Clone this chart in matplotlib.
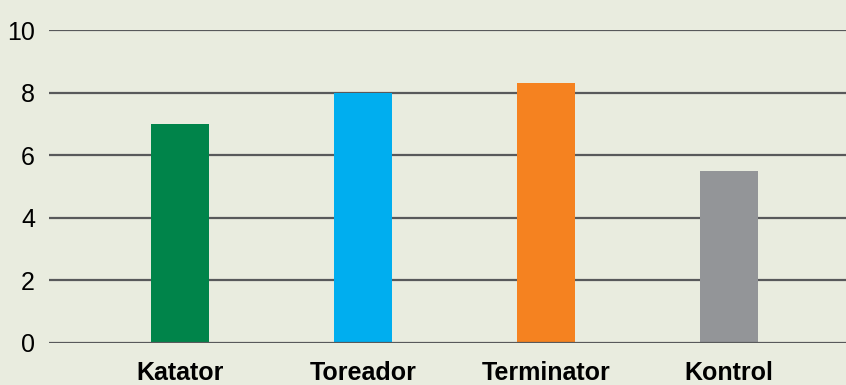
import matplotlib.pyplot as plt

plt.rcParams["font.family"] = ["Liberation Sans", "DejaVu Sans"]

products = ["Katator", "Toreador", "Terminator", "Kontrol"]
values = [7.0, 8.0, 8.3, 5.5]
bar_colors = ["#00844a", "#00aeef", "#f58220", "#939598"]
y_ticks = [0, 2, 4, 6, 8, 10]

bg = "#e9ecdf"

fig = plt.figure(figsize=(8.46, 3.85), dpi=100, facecolor=bg)
ax = fig.add_axes([49 / 846, 42.3 / 385, 1 - 49 / 846, (342.7 - 30) / 385])
ax.set_facecolor(bg)

x = range(len(products))
ax.bar(x, values, width=0.317, color=bar_colors, zorder=2)

ax.set_ylim(0, 10)
ax.set_xlim(-0.716, 3.64)
ax.set_yticks(y_ticks)
ax.set_xticks(list(x))
ax.set_xticklabels(products, fontsize=18, fontweight="bold")
ax.tick_params(axis="y", length=0, pad=10, labelsize=18)
ax.tick_params(axis="x", length=0, pad=13)

for t in y_ticks:
    ax.axhline(t, color="#58595b", linewidth=1.6, zorder=1 if t else 3)

for s in ax.spines.values():
    s.set_visible(False)

fig.savefig("out.png", dpi=100, facecolor=bg)
